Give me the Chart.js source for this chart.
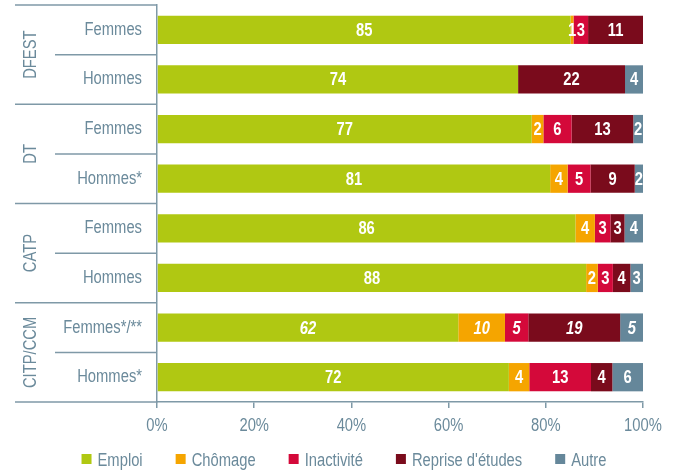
<!DOCTYPE html>
<html><head><meta charset="utf-8">
<script src="https://cdn.jsdelivr.net/npm/chart.js@4/dist/chart.umd.min.js"></script>
<style>html,body{margin:0;padding:0;background:#fff}#wrap{width:680px;height:473px;position:relative}</style>
</head><body><div id="wrap"><canvas id="c" width="680" height="473"></canvas></div>
<script>
// ---- data ----
const categories = ["Femmes", "Hommes", "Femmes", "Hommes*", "Femmes", "Hommes", "Femmes*/**", "Hommes*"];
const groups = ["DFEST", "DT", "CATP", "CITP/CCM"];
const seriesNames = ["Emploi", "Chômage", "Inactivité", "Reprise d'études", "Autre"];
const emploi     = [85.1, 74.3, 77.1, 80.9, 86.1, 88.3, 62.0, 72.4];
const chomage    = [0.6, 0, 2.4, 3.6, 4.0, 2.4, 9.6, 4.2];
const inactivite = [3.0, 0, 5.8, 4.7, 3.2, 3.1, 4.8, 12.7];
const reprise    = [11.3, 22.0, 12.7, 9.1, 2.9, 3.6, 18.9, 4.4];
const autre      = [0, 3.7, 2.0, 1.7, 3.8, 2.6, 4.8, 6.3];
const xTickValues = [0, 20, 40, 60, 80, 100];
const italicRows = [6];

// ---- style ----
const FF = "'Liberation Sans', Arial, sans-serif";
const NARROW = 0.82;
const colors = ["#b0c812", "#f5a500", "#d4093a", "#7a0b1c", "#65879a"];
const textColor = "#6b8a9b";
const axisColor = "#7f99a7";
Chart.defaults.font.family = FF;

const seriesData = [emploi, chomage, inactivite, reprise, autre];

function narrowText(ctx, text, x, y, align, rot) {
  ctx.save();
  ctx.translate(x, y);
  if (rot) ctx.rotate(rot);
  ctx.scale(NARROW, 1);
  ctx.textAlign = align;
  ctx.fillText(text, 0, 0);
  ctx.restore();
}

const decor = {
  id: 'decor',
  afterDraw(chart) {
    const ctx = chart.ctx, ca = chart.chartArea, y = chart.scales.y, x = chart.scales.x;
    ctx.save();
    ctx.strokeStyle = axisColor; ctx.lineWidth = 1.5;
    const n = categories.length;
    for (let i = 0; i <= n; i++) {
      let py;
      if (i === 0) py = ca.top; else if (i === n) py = ca.bottom;
      else py = (y.getPixelForValue(i - 1) + y.getPixelForValue(i)) / 2;
      const x0 = (i % 2 === 0) ? 15 : 55;
      ctx.beginPath(); ctx.moveTo(x0, py); ctx.lineTo(ca.left, py); ctx.stroke();
    }
    ctx.fillStyle = textColor; ctx.textBaseline = 'middle';
    // category labels
    ctx.font = "18px " + FF;
    categories.forEach((c, i) => narrowText(ctx, c, ca.left - 15, y.getPixelForValue(i), 'right'));
    // group labels
    ctx.font = "18px " + FF;
    groups.forEach((g, k) => {
      const cy = (y.getPixelForValue(2 * k) + y.getPixelForValue(2 * k + 1)) / 2;
      narrowText(ctx, g, 31, cy, 'center', -Math.PI / 2);
    });
    // x tick labels
    ctx.font = "18px " + FF;
    xTickValues.forEach(v => narrowText(ctx, v + '%', x.getPixelForValue(v), ca.bottom + 24, 'center'));
    // legend
    ctx.font = "18px " + FF;
    const box = 10, gapT = 6, gapI = 33;
    const widths = seriesNames.map(s => box + gapT + ctx.measureText(s).width * NARROW);
    const total = widths.reduce((a, b) => a + b, 0) + gapI * (widths.length - 1);
    let lx = 344 - total / 2; const ly = 461;
    seriesNames.forEach((s, i) => {
      ctx.fillStyle = colors[i]; ctx.fillRect(lx, ly - 7, box, box);
      ctx.fillStyle = textColor; narrowText(ctx, s, lx + box + gapT, ly, 'left');
      lx += widths[i] + gapI;
    });
    ctx.restore();
  },
  afterDatasetsDraw(chart) {
    const ctx = chart.ctx;
    ctx.save();
    ctx.fillStyle = '#ffffff'; ctx.textBaseline = 'middle';
    chart.data.datasets.forEach((ds, di) => {
      const meta = chart.getDatasetMeta(di);
      meta.data.forEach((el, i) => {
        const v = ds.data[i];
        if (!v || v < 0.5) return;
        ctx.font = (italicRows.includes(i) ? "italic " : "") + "bold 18px " + FF;
        narrowText(ctx, String(Math.round(v)), (el.x + el.base) / 2, el.y + 1, 'center');
      });
    });
    ctx.restore();
  }
};

new Chart(document.getElementById('c'), {
  type: 'bar',
  data: {
    labels: categories,
    datasets: seriesNames.map((name, i) => ({
      label: name, data: seriesData[i], backgroundColor: colors[i],
      borderWidth: 0, categoryPercentage: 1, barPercentage: 0.57
    }))
  },
  options: {
    indexAxis: 'y', responsive: false, animation: false, devicePixelRatio: 1,
    layout: { padding: { top: 5, right: 37, bottom: 31, left: 0 } },
    plugins: { legend: { display: false }, tooltip: { enabled: false } },
    scales: {
      x: {
        stacked: true, min: 0, max: 100,
        afterBuildTicks: s => { s.ticks = xTickValues.map(v => ({ value: v })); },
        afterFit: s => { s.height = 40; },
        grid: { display: true, drawOnChartArea: false, drawTicks: true, tickLength: 6, color: axisColor, lineWidth: 1.5 },
        border: { display: true, color: axisColor, width: 1.5 },
        ticks: { display: false }
      },
      y: {
        stacked: true,
        afterFit: s => { s.width = 157; },
        grid: { display: false },
        border: { display: true, color: axisColor, width: 1.5 },
        ticks: { display: false }
      }
    }
  },
  plugins: [decor]
});
</script></body></html>
